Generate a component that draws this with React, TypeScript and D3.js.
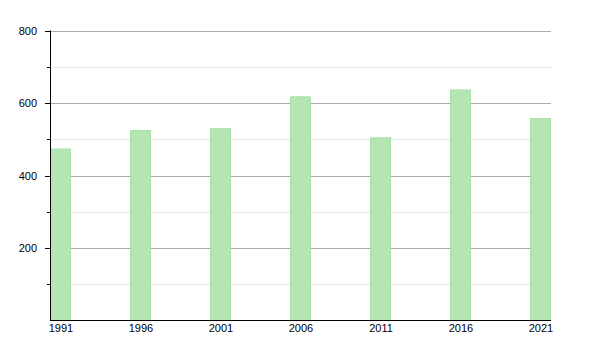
import React from "react";
import * as d3 from "d3";

const years = ["1991", "1996", "2001", "2006", "2011", "2016", "2021"];
const values = [473, 524, 529, 617, 504, 636, 557];
const majorTicks = [200, 400, 600, 800];
const minorTicks = [100, 300, 500, 700];

export default function App() {
  const W = 600, H = 350;
  const left = 50, right = 551, top = 30.5, bottom = 320.5;
  const y = d3.scaleLinear().domain([0, 800]).range([bottom, top]);
  const x = d3.scaleBand().domain(years).range([left, left + 80 * years.length]).paddingInner(0).paddingOuter(0);
  const barW = 21;
  const font = "'Liberation Sans', Arial, sans-serif";
  return (
    <svg width={W} height={H} style={{ position: "absolute", left: 0, top: 0 }}>
      <rect width={W} height={H} fill="#fff" />
      {minorTicks.map((t) => (
        <g key={"m" + t}>
          <line x1={left} x2={right} y1={Math.round(y(t)) + 0.5} y2={Math.round(y(t)) + 0.5} stroke="#e6e6e6" />
          <line x1={left - 3} x2={left} y1={Math.round(y(t)) + 0.5} y2={Math.round(y(t)) + 0.5} stroke="#000" />
        </g>
      ))}
      {majorTicks.map((t) => (
        <g key={"M" + t}>
          <line x1={left} x2={right} y1={Math.round(y(t)) + 0.5} y2={Math.round(y(t)) + 0.5} stroke="#aaaaaa" />
          <line x1={left - 5} x2={left} y1={Math.round(y(t)) + 0.5} y2={Math.round(y(t)) + 0.5} stroke="#000" />
          <text x={37} y={y(t) + 4} textAnchor="end" fontFamily={font} fontSize={11} fill="#000">{t}</text>
        </g>
      ))}
      {years.map((yr, i) => {
        const bx = (x(yr) as number) + 0.5;
        const by = y(values[i]);
        return (
          <g key={yr}>
            <rect x={bx} y={by} width={barW - 1} height={bottom - by} fill="#b3e6b3" stroke="#a8e0a8" strokeWidth={1} />
            <text x={bx + barW / 2} y={332} textAnchor="middle" fontFamily={font} fontSize={11} fill="#000">{yr}</text>
          </g>
        );
      })}
      <line x1={left + 0.5} x2={left + 0.5} y1={top} y2={bottom} stroke="#000" />
      <line x1={left} x2={right} y1={bottom} y2={bottom} stroke="#000" />
    </svg>
  );
}
